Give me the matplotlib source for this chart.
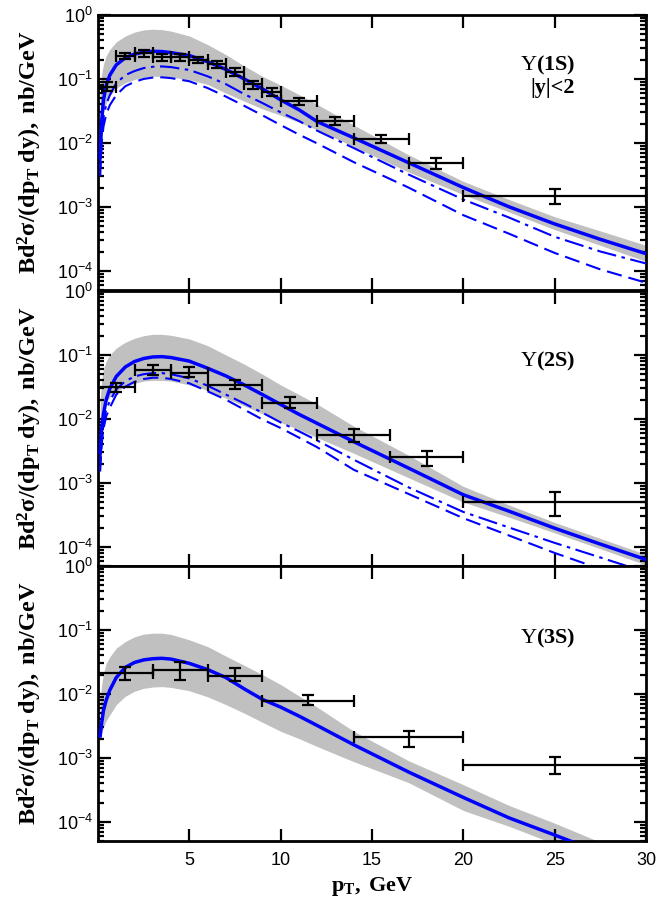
import matplotlib
matplotlib.use("Agg")
import matplotlib.pyplot as plt
from matplotlib.ticker import LogLocator, NullFormatter

plt.rcParams['font.family'] = ['Liberation Sans', 'DejaVu Sans']
plt.rcParams['mathtext.fontset'] = 'custom'
plt.rcParams['mathtext.rm'] = 'Liberation Serif'
plt.rcParams['mathtext.it'] = 'Liberation Serif:italic'
plt.rcParams['mathtext.bf'] = 'Liberation Serif:bold'
plt.rcParams['lines.scale_dashes'] = False

# theory grid (pT, GeV)
pt = [0.12, 0.2, 0.3, 0.45, 0.65, 1.0, 1.5, 2.0, 2.5, 3.0, 3.5, 4.0, 5.0, 6.0, 7.0,
      8.0, 9.0, 10.0, 11.0, 12.0, 14.0, 17.0, 20.0, 22.5, 25.0, 27.5, 30.0]

# Y(1S)
s1_solid = [0.006, 0.022, 0.047, 0.08, 0.115, 0.166, 0.215, 0.245, 0.262, 0.27, 0.268, 0.258,
            0.232, 0.186, 0.141, 0.1, 0.07, 0.047, 0.033, 0.0215, 0.012, 0.0049, 0.002,
            0.001, 0.00054, 0.00031, 0.000185]
s1_up = [0.06, 0.12, 0.17, 0.23, 0.29, 0.38, 0.47, 0.54, 0.585, 0.6, 0.59, 0.56, 0.47, 0.345,
         0.24, 0.16, 0.11, 0.08, 0.057, 0.04, 0.019, 0.0065, 0.0025, 0.0013, 0.0007, 0.00042,
         0.00025]
s1_lo = [0.012, 0.02, 0.03, 0.042, 0.055, 0.072, 0.087, 0.098, 0.106, 0.11, 0.11, 0.107,
         0.097, 0.082, 0.06, 0.045, 0.034, 0.027, 0.021, 0.016, 0.0087, 0.0035, 0.00155,
         0.00083, 0.00044, 0.00025, 0.00014]
s1_dashdot = [0.004, 0.015, 0.025, 0.04, 0.056, 0.086, 0.115, 0.133, 0.148, 0.155, 0.157, 0.153,
              0.138, 0.11, 0.083, 0.058, 0.042, 0.03, 0.022, 0.0155, 0.0083, 0.0032, 0.0013,
              0.00068, 0.00034, 0.0002, 0.00013]
s1_dashed = [0.003, 0.01, 0.018, 0.028, 0.039, 0.056, 0.077, 0.09, 0.1, 0.105, 0.106, 0.103,
             0.092, 0.072, 0.053, 0.038, 0.027, 0.019, 0.0135, 0.0098, 0.005, 0.002, 0.00074,
             0.00038, 0.00019, 0.000105, 0.000065]

# Y(2S)
s2_solid = [0.003, 0.007, 0.012, 0.02, 0.03, 0.046, 0.065, 0.079, 0.088, 0.093, 0.094, 0.091,
            0.08, 0.062, 0.047, 0.034, 0.024, 0.0168, 0.0118, 0.0085, 0.0044, 0.0017, 0.00065,
            0.00036, 0.000195, 0.00011, 0.000063]
s2_up = [0.02, 0.04, 0.06, 0.08, 0.1, 0.128, 0.158, 0.182, 0.2, 0.21, 0.21, 0.203, 0.178, 0.14,
         0.1, 0.072, 0.05, 0.034, 0.024, 0.017, 0.0077, 0.0027, 0.00088, 0.00045, 0.00024,
         0.000135, 0.000076]
s2_lo = [0.006, 0.01, 0.014, 0.018, 0.022, 0.027, 0.032, 0.036, 0.039, 0.04, 0.04, 0.039, 0.034,
         0.028, 0.021, 0.016, 0.012, 0.0088, 0.0068, 0.0051, 0.0029, 0.0012, 0.0005, 0.00029,
         0.000165, 0.000093, 0.000052]
s2_dashdot = [0.002, 0.005, 0.009, 0.014, 0.019, 0.029, 0.039, 0.046, 0.05, 0.052, 0.052, 0.05,
              0.043, 0.033, 0.024, 0.0175, 0.0125, 0.0088, 0.0064, 0.0046, 0.0023, 0.00085,
              0.00035, 0.0002, 0.000115, 0.000068, 0.00004]
s2_dashed = [0.0015, 0.004, 0.007, 0.011, 0.015, 0.024, 0.032, 0.038, 0.042, 0.044, 0.044, 0.042,
             0.036, 0.027, 0.02, 0.014, 0.0098, 0.0072, 0.0051, 0.0036, 0.0016, 0.00067,
             0.00028, 0.00015, 0.00008, 0.000045, 0.000027]

# Y(3S)
s3_solid = [0.0022, 0.0035, 0.0055, 0.008, 0.0115, 0.018, 0.026, 0.031, 0.034, 0.0355, 0.036,
            0.035, 0.03, 0.024, 0.018, 0.012, 0.0082, 0.0062, 0.0045, 0.0032, 0.0016, 0.0006,
            0.00024, 0.000115, 0.000062, 0.000033, 0.000018]
s3_up = [0.008, 0.014, 0.021, 0.03, 0.038, 0.052, 0.066, 0.078, 0.086, 0.089, 0.089, 0.085, 0.07,
         0.055, 0.039, 0.028, 0.02, 0.014, 0.0093, 0.0062, 0.0026, 0.0009, 0.00038, 0.00018,
         0.000095, 0.000048, 0.000025]
s3_lo = [0.0018, 0.0025, 0.003, 0.0038, 0.0047, 0.0068, 0.0092, 0.011, 0.0122, 0.0128, 0.013,
         0.0126, 0.0112, 0.009, 0.0068, 0.005, 0.0036, 0.0026, 0.002, 0.0015, 0.00087, 0.00041,
         0.00015, 0.000085, 0.000045, 0.000024, 0.000013]

# data points: bin centre, half width, value, lower/upper error
d1_x = [0.5, 1.5, 2.5, 3.5, 4.5, 5.5, 6.5, 7.5, 8.5, 9.5, 11, 13, 15.5, 18.5, 25]
d1_xe = [0.5, 0.5, 0.5, 0.5, 0.5, 0.5, 0.5, 0.5, 0.5, 0.5, 1, 1, 1.5, 1.5, 5]
d1_y = [0.076, 0.23, 0.25, 0.22, 0.22, 0.2, 0.17, 0.13, 0.082, 0.063, 0.045, 0.022, 0.0115,
        0.0049, 0.0015]
d1_rel = [0.16, 0.12, 0.12, 0.12, 0.12, 0.12, 0.12, 0.13, 0.14, 0.14, 0.13, 0.14, 0.14, 0.2, 0.25]

d2_x = [1, 3, 5, 7.5, 10.5, 14, 18, 25]
d2_xe = [1, 1, 1, 1.5, 1.5, 2, 2, 5]
d2_y = [0.031, 0.058, 0.052, 0.034, 0.018, 0.0056, 0.0025, 0.0005]
d2_lo = [0.005, 0.009, 0.007, 0.005, 0.0033, 0.0012, 0.0007, 0.0002]
d2_hi = [0.006, 0.011, 0.013, 0.006, 0.004, 0.0013, 0.0006, 0.00022]

d3_x = [1.5, 4.5, 7.5, 11.5, 17, 25]
d3_xe = [1.5, 1.5, 1.5, 2.5, 3, 5]
d3_y = [0.021, 0.024, 0.019, 0.0078, 0.0021, 0.00078]
d3_lo = [0.0044, 0.0074, 0.003, 0.0011, 0.0006, 0.00022]
d3_hi = [0.005, 0.008, 0.006, 0.0018, 0.0005, 0.00026]

blue = '#0000ff'
grey = '#c0c0c0'

fig = plt.figure(figsize=(6.64, 9.11), dpi=100)
left, width = 98 / 664, 548 / 664
h = 275 / 911
bottoms = [(911 - 290) / 911, (911 - 566) / 911, (911 - 841) / 911]
axes = [fig.add_axes([left, b, width, h]) for b in bottoms]


def style(ax, last):
    ax.set_yscale('log')
    ax.set_xlim(0, 30)
    ax.set_ylim(5e-5, 1)
    ax.set_xticks([5, 10, 15, 20, 25, 30])
    ax.yaxis.set_major_locator(LogLocator(base=10, numticks=10))
    ax.yaxis.set_minor_locator(LogLocator(base=10, subs=range(2, 10), numticks=20))
    ax.yaxis.set_minor_formatter(NullFormatter())
    ax.tick_params(which='both', direction='in', top=True, right=True, width=1.6)
    ax.tick_params(which='major', length=9, labelsize=13)
    ax.tick_params(which='minor', length=4.5)
    ax.tick_params(axis='x', pad=8)
    for sp in ax.spines.values():
        sp.set_linewidth(2)
    if not last:
        ax.tick_params(axis='x', labelbottom=False)
    ax.text(-0.124, 0.5, r'$\mathbf{Bd^2\sigma/(dp_T\ dy),\ nb/GeV}$', transform=ax.transAxes,
            rotation=90, ha='center', va='center', fontsize=17.5)


def errbars(ax, x, xe, y, lo, hi):
    ax.errorbar(x, y, xerr=xe, yerr=[lo, hi], fmt='none', ecolor='black', elinewidth=1.6,
                capsize=4.5, capthick=1.6, zorder=5)


ax1, ax2, ax3 = axes

ax1.fill_between(pt, s1_lo, s1_up, color=grey, lw=0, zorder=1)
ax1.plot(pt, s1_dashed, color=blue, lw=1.5, dashes=(11, 5), zorder=3)
ax1.plot(pt, s1_dashdot, color=blue, lw=1.5, dashes=(14, 4, 2.5, 4), zorder=3)
ax1.plot(pt, s1_solid, color=blue, lw=2.5, zorder=4)
errbars(ax1, d1_x, d1_xe, d1_y, [v * r for v, r in zip(d1_y, d1_rel)],
        [v * r for v, r in zip(d1_y, d1_rel)])
ax1.text(0.82, 0.815, r'$\mathrm{Υ}\mathbf{(1S)}$', transform=ax1.transAxes, ha='center',
         va='center', fontsize=16)
ax1.text(0.83, 0.735, '|y|<2', transform=ax1.transAxes, ha='center', va='center',
         fontsize=16, family='Liberation Serif', weight='bold')

ax2.fill_between(pt, s2_lo, s2_up, color=grey, lw=0, zorder=1)
ax2.plot(pt, s2_dashed, color=blue, lw=1.5, dashes=(11, 5), zorder=3)
ax2.plot(pt, s2_dashdot, color=blue, lw=1.5, dashes=(14, 4, 2.5, 4), zorder=3)
ax2.plot(pt, s2_solid, color=blue, lw=2.5, zorder=4)
errbars(ax2, d2_x, d2_xe, d2_y, d2_lo, d2_hi)
ax2.text(0.82, 0.742, r'$\mathrm{Υ}\mathbf{(2S)}$', transform=ax2.transAxes, ha='center',
         va='center', fontsize=16)

ax3.fill_between(pt, s3_lo, s3_up, color=grey, lw=0, zorder=1)
ax3.plot(pt, s3_solid, color=blue, lw=2.5, zorder=4)
errbars(ax3, d3_x, d3_xe, d3_y, d3_lo, d3_hi)
ax3.text(0.82, 0.738, r'$\mathrm{Υ}\mathbf{(3S)}$', transform=ax3.transAxes, ha='center',
         va='center', fontsize=16)

for i, ax in enumerate(axes):
    style(ax, i == 2)

fig.text(372 / 664, (911 - 887) / 911, r'$\mathbf{p_T,\ GeV}$', ha='center', va='center',
         fontsize=16)

fig.savefig('out.png', dpi=100)
